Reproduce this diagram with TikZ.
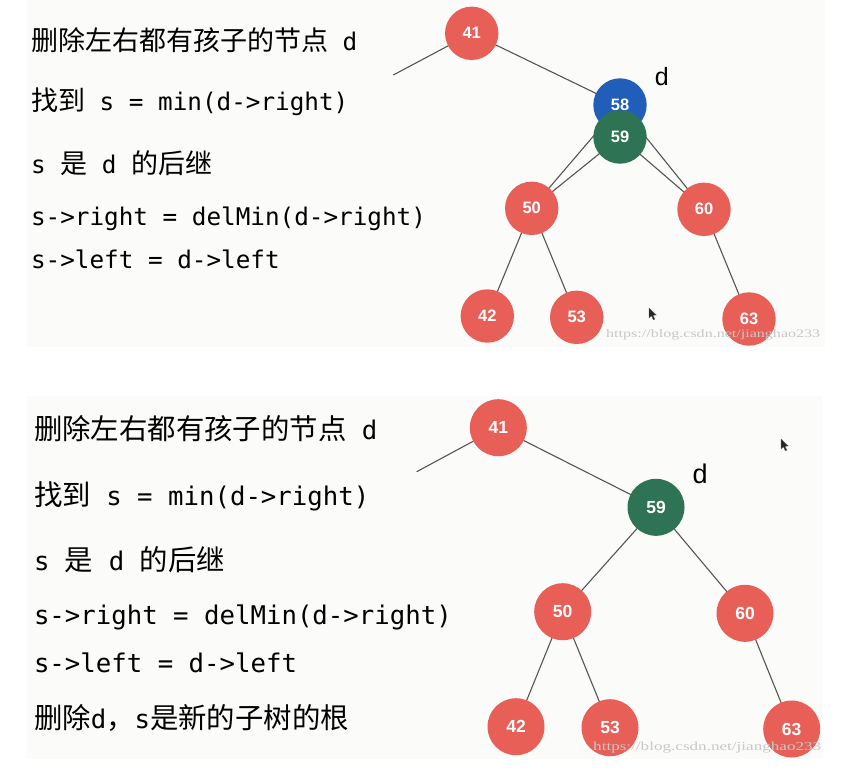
\documentclass[tikz,border=0pt]{standalone}
\usepackage{fontspec}
\newfontfamily\cjk{Noto Sans CJK SC}
\newfontfamily\mono{DejaVu Sans Mono}
\newfontfamily\helv{Liberation Sans}
\newfontfamily\wmfont{Liberation Serif}
\definecolor{nodered}{RGB}{232,95,88}
\definecolor{nodeblue}{RGB}{33,94,186}
\definecolor{nodegreen}{RGB}{46,115,83}
\definecolor{edgegray}{RGB}{85,85,85}
\definecolor{panelbg}{RGB}{251,251,249}
\definecolor{wmgray}{RGB}{200,200,200}
\pgfdeclarelayer{panel}
\pgfdeclarelayer{edges}
\pgfsetlayers{panel,edges,main}
% top-panel text sizes
\newcommand\zhA[1]{{\fontsize{27pt}{30pt}\cjk\selectfont #1}}
\newcommand\enA[1]{{\fontsize{24.3pt}{28pt}\mono\selectfont #1}}
% bottom-panel text sizes
\newcommand\zhB[1]{{\fontsize{28.4pt}{32pt}\cjk\selectfont #1}}
\newcommand\enB[1]{{\fontsize{25.7pt}{30pt}\mono\selectfont #1}}
\tikzset{
  txt/.style={anchor=base west, inner sep=0pt, outer sep=0pt},
  tnode/.style={circle, minimum size=53.4pt, inner sep=0pt, text=white,
    font=\helv\bfseries\fontsize{16.5pt}{18pt}\selectfont},
  bnode/.style={circle, minimum size=57pt, inner sep=0pt, text=white,
    font=\helv\bfseries\fontsize{17.5pt}{19pt}\selectfont},
  edge/.style={draw=edgegray, line width=1.1pt},
  dlabel/.style={inner sep=0pt, font=\helv\fontsize{25pt}{27pt}\selectfont},
  wm/.style={anchor=base west, inner sep=0pt, text=wmgray},
  cursorshape/.style={fill=black!85, draw=black!60, line width=0.3pt}
}
\begin{document}
\begin{tikzpicture}[x=1pt,y=-1pt]
\useasboundingbox (0,0) rectangle (858,780);
\begin{pgfonlayer}{panel}
  \fill[white] (0,0) rectangle (858,780);
  \fill[panelbg] (27,0) rectangle (825,347);
  \fill[panelbg] (27,396) rectangle (822,759);
\end{pgfonlayer}

% ---------- top panel text ----------
\node[txt] (ta1) at (31,50) {\zhA{删除左右都有孩子的节点}\enA{ d}};
\node[txt] (ta2) at (31,110) {\zhA{找到}\enA{ s = min(d->right)}};
\node[txt] (ta3) at (31,173) {\enA{s }\zhA{是}\enA{ d }\zhA{的后继}};
\node[txt] (ta4) at (31,225) {\enA{s->right = delMin(d->right)}};
\node[txt] (ta5) at (31,268) {\enA{s->left = d->left}};

% ---------- top panel tree ----------
\node[tnode, fill=nodered] (t41) at (471.7,33.3) {41};
\node[tnode, fill=nodeblue] (t58) at (620,105) {58};
\node[tnode, fill=nodegreen] (t59) at (620,137) {59};
\node[tnode, fill=nodered] (t50) at (531.7,208.3) {50};
\node[tnode, fill=nodered] (t60) at (704,209.3) {60};
\node[tnode, fill=nodered] (t42) at (487.3,316) {42};
\node[tnode, fill=nodered] (t53) at (576.7,317.3) {53};
\node[tnode, fill=nodered] (t63) at (749,319) {63};
\node[dlabel] (td) at (661.7,77) {d};
\coordinate (tstub) at (393.3,75);
\begin{pgfonlayer}{edges}
  \draw[edge] (t41.center) -- (tstub);
  \draw[edge] (t41.center) -- (t58.center);
  \draw[edge] (t58.center) -- (t50.center);
  \draw[edge] (t59.center) -- (t50.center);
  \draw[edge] (t58.center) -- (t60.center);
  \draw[edge] (t59.center) -- (t60.center);
  \draw[edge] (t50.center) -- (t42.center);
  \draw[edge] (t50.center) -- (t53.center);
  \draw[edge] (t60.center) -- (t63.center);
\end{pgfonlayer}

% ---------- bottom panel text ----------
\node[txt] (ba1) at (34,439) {\zhB{删除左右都有孩子的节点}\enB{ d}};
\node[txt] (ba2) at (34,505) {\zhB{找到}\enB{ s = min(d->right)}};
\node[txt] (ba3) at (34,570) {\enB{s }\zhB{是}\enB{ d }\zhB{的后继}};
\node[txt] (ba4) at (34,624) {\enB{s->right = delMin(d->right)}};
\node[txt] (ba5) at (34,672) {\enB{s->left = d->left}};
\node[txt] (ba6) at (34,728) {\zhB{删除}\enB{d}\zhB{，}\enB{s}\zhB{是新的子树的根}};

% ---------- bottom panel tree ----------
\node[bnode, fill=nodered] (b41) at (498.3,427.7) {41};
\node[bnode, fill=nodegreen] (b59) at (656,507.3) {59};
\node[bnode, fill=nodered] (b50) at (562.7,611.7) {50};
\node[bnode, fill=nodered] (b60) at (745,613.3) {60};
\node[bnode, fill=nodered] (b42) at (516,726.7) {42};
\node[bnode, fill=nodered] (b53) at (610,727.7) {53};
\node[bnode, fill=nodered] (b63) at (791.7,729) {63};
\node[dlabel, font=\helv\fontsize{27pt}{29pt}\selectfont] (bd) at (700,474) {d};
\coordinate (bstub) at (416.7,471.7);
\begin{pgfonlayer}{edges}
  \draw[edge] (b41.center) -- (bstub);
  \draw[edge] (b41.center) -- (b59.center);
  \draw[edge] (b59.center) -- (b50.center);
  \draw[edge] (b59.center) -- (b60.center);
  \draw[edge] (b50.center) -- (b42.center);
  \draw[edge] (b50.center) -- (b53.center);
  \draw[edge] (b60.center) -- (b63.center);
\end{pgfonlayer}

% ---------- mouse cursors ----------
\fill[cursorshape] (649,308) -- (649,318) -- (651.5,315.8) -- (653.3,319.8) -- (654.8,319.1) -- (653,315.2) -- (656.3,315) -- cycle;
\fill[cursorshape] (781,439) -- (781,449) -- (783.5,446.8) -- (785.3,450.8) -- (786.8,450.1) -- (785,446.2) -- (788.3,446) -- cycle;

% ---------- watermarks ----------
\node[wm] (wm1) at (606,337) {\resizebox{214pt}{8pt}{\wmfont https://blog.csdn.net/jianghao233}};
\node[wm] (wm2) at (593,750) {\resizebox{228pt}{8.5pt}{\wmfont https://blog.csdn.net/jianghao233}};
\end{tikzpicture}
\end{document}
